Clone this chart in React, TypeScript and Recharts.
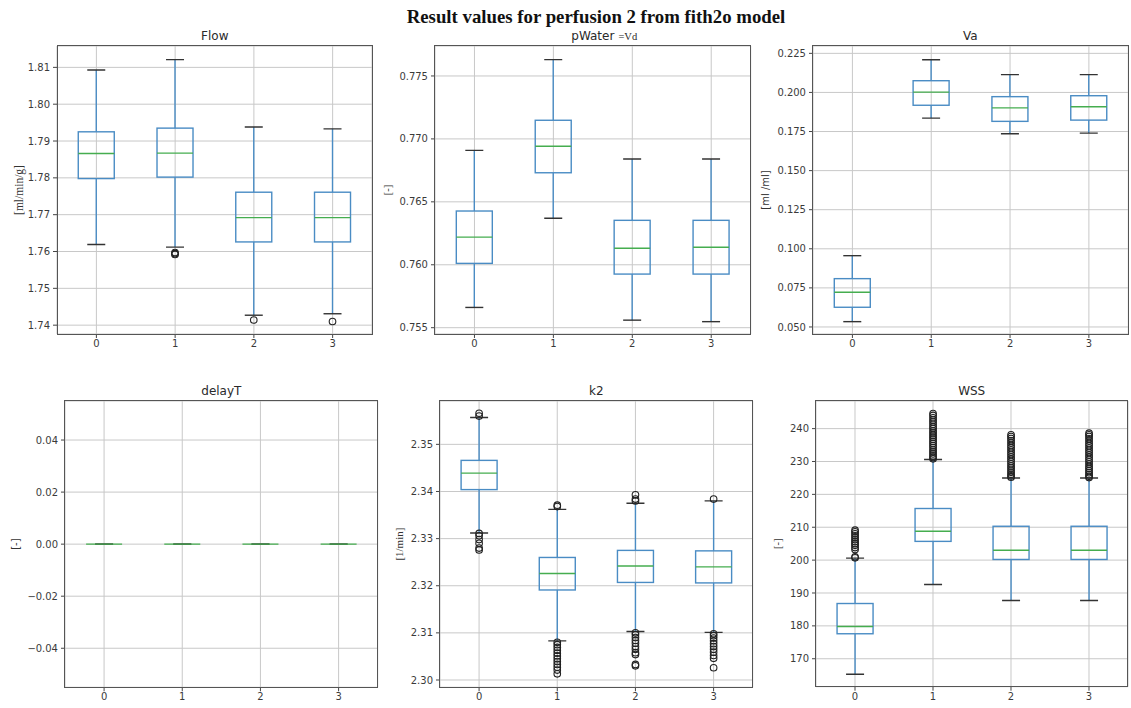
import React from 'react';
import { ComposedChart, Bar, XAxis, YAxis, CartesianGrid } from 'recharts';

const categories = ['0', '1', '2', '3'];

// each row: [lower whisker, Q1, median, Q3, upper whisker]
const flowBoxes = [
  [1.7619, 1.7798, 1.7866, 1.7925, 1.8093],
  [1.7612, 1.7802, 1.7867, 1.7935, 1.8121],
  [1.7427, 1.7626, 1.7692, 1.7761, 1.7938],
  [1.7431, 1.7626, 1.7692, 1.7761, 1.7933],
];
const flowOutliers = [[], [1.7597, 1.7594, 1.7592], [1.7414], [1.741]];
const flowTicks = [1.74, 1.75, 1.76, 1.77, 1.78, 1.79, 1.8, 1.81];

const waterBoxes = [
  [0.75661, 0.76011, 0.7622, 0.76427, 0.76909],
  [0.76369, 0.76731, 0.76941, 0.77148, 0.7763],
  [0.7556, 0.75926, 0.76131, 0.76353, 0.7684],
  [0.75548, 0.75926, 0.76139, 0.76353, 0.7684],
];
const waterOutliers = [[], [], [], []];
const waterTicks = [0.755, 0.76, 0.765, 0.77, 0.775];

const vaBoxes = [
  [0.0534, 0.0626, 0.0722, 0.0809, 0.0956],
  [0.1836, 0.1918, 0.2002, 0.2075, 0.2209],
  [0.1736, 0.1815, 0.1901, 0.1973, 0.2114],
  [0.174, 0.1823, 0.1908, 0.1979, 0.2114],
];
const vaOutliers = [[], [], [], []];
const vaTicks = [0.05, 0.075, 0.1, 0.125, 0.15, 0.175, 0.2, 0.225];

const delayBoxes = [
  [0, 0, 0, 0, 0],
  [0, 0, 0, 0, 0],
  [0, 0, 0, 0, 0],
  [0, 0, 0, 0, 0],
];
const delayOutliers = [[], [], [], []];
const delayTicks = [-0.04, -0.02, 0, 0.02, 0.04];

const k2Boxes = [
  [2.3312, 2.3404, 2.3439, 2.3466, 2.3557],
  [2.3083, 2.3191, 2.3226, 2.326, 2.3362],
  [2.3103, 2.3207, 2.3242, 2.3275, 2.3375],
  [2.3101, 2.3206, 2.324, 2.3274, 2.338],
];
const k2Outliers = [
  [2.3566, 2.356, 2.3311, 2.3306, 2.3298, 2.329, 2.328, 2.3276],
  [2.3371, 2.3368, 2.308, 2.3075, 2.3069, 2.3063, 2.3057, 2.3051, 2.3045, 2.3039, 2.3033, 2.3027, 2.3021, 2.3013],
  [2.3393, 2.3384, 2.338, 2.31, 2.3096, 2.309, 2.3084, 2.3078, 2.3071, 2.3065, 2.3058, 2.3054, 2.3033, 2.303],
  [2.3384, 2.3098, 2.3094, 2.3089, 2.3083, 2.3077, 2.3071, 2.3065, 2.3059, 2.3052, 2.3046, 2.3026],
];
const k2Ticks = [2.3, 2.31, 2.32, 2.33, 2.34, 2.35];

const wssBoxes = [
  [165.3, 177.6, 179.8, 186.8, 200.6],
  [192.6, 205.7, 208.8, 215.7, 230.6],
  [187.7, 200.2, 203.0, 210.3, 225.0],
  [187.7, 200.2, 203.0, 210.3, 225.0],
];
const wssOutliers = [
  [200.7, 201.0, 203.2, 203.8, 204.5, 205.0, 205.6, 206.2, 206.8, 207.4, 208.0, 208.6, 209.1],
  [230.8, 231.2, 231.7, 232.3, 232.9, 233.5, 234.2, 234.8, 235.5, 236.1, 236.8, 237.4, 238.0, 238.7, 239.3, 240.0, 240.6, 241.3, 242.0, 242.6, 243.3, 244.0, 244.6],
  [225.2, 225.6, 226.1, 226.7, 227.3, 228.0, 228.6, 229.3, 230.0, 230.7, 231.4, 232.1, 232.8, 233.5, 234.2, 234.9, 235.6, 236.3, 237.0, 237.6, 238.1],
  [225.1, 225.5, 226.0, 226.6, 227.2, 227.9, 228.5, 229.2, 229.9, 230.6, 231.3, 232.0, 232.7, 233.4, 234.1, 234.8, 235.5, 236.2, 236.9, 237.6, 238.1, 238.6],
];
const wssTicks = [170, 180, 190, 200, 210, 220, 230, 240];

const BLUE = '#4a8cc4';
const GREEN = '#45ad4f';
const SANS = '"DejaVu Sans", sans-serif';
const SERIF = '"Liberation Serif", serif';

const AXIS_W = 55;
const TOP = 22;
const XAXIS_H = 22;
const RIGHT = 4;

// draws one box with whiskers, caps, median and fliers inside the bar's range
const BoxShape = (props: any) => {
  const { x, y, width, height } = props;
  const row = props.payload ?? props;
  const { box, out, lo, hi } = row;
  const toY = (v: number) => (hi === lo ? y : y + ((hi - v) / (hi - lo)) * height);
  const cx = x + width / 2;
  const cap = width / 4;
  const [wl, q1, med, q3, wh] = box.map(toY);
  return (
    <g>
      <line x1={cx} x2={cx} y1={wh} y2={q3} stroke={BLUE} strokeWidth={1.4} />
      <line x1={cx} x2={cx} y1={q1} y2={wl} stroke={BLUE} strokeWidth={1.4} />
      <line x1={cx - cap} x2={cx + cap} y1={wh} y2={wh} stroke="#333" strokeWidth={1.4} />
      <line x1={cx - cap} x2={cx + cap} y1={wl} y2={wl} stroke="#333" strokeWidth={1.4} />
      <rect x={x} y={Math.min(q1, q3)} width={width} height={Math.abs(q1 - q3)} fill="none" stroke={BLUE} strokeWidth={1.4} />
      <line x1={x} x2={x + width} y1={med} y2={med} stroke={GREEN} strokeWidth={1.4} />
      {out.map((v: number, i: number) => (
        <circle key={i} cx={cx} cy={toY(v)} r={3.3} fill="none" stroke="#222" strokeWidth={1.1} />
      ))}
    </g>
  );
};

interface PanelProps {
  title: React.ReactNode;
  unit: string;
  unitFont: string;
  unitSize: number;
  boxes: number[][];
  outliers: number[][];
  ticks: number[];
  domain: [number, number];
  format: (v: number) => string;
  frame: [number, number, number, number];
  labelX: number;
}

const Panel = ({ title, unit, unitFont, unitSize, boxes, outliers, ticks, domain, format, frame, labelX }: PanelProps) => {
  const [x0, y0, x1, y1] = frame;
  const w = x1 - x0;
  const h = y1 - y0;
  const left = x0 - AXIS_W;
  const data = categories.map((name, i) => {
    const all = [boxes[i][0], boxes[i][4], ...outliers[i]];
    return { name, box: boxes[i], out: outliers[i], lo: Math.min(...all), hi: Math.max(...all) };
  });
  const tickStyle = { fontSize: 10, fill: '#3a3a3a', fontFamily: SANS };
  return (
    <>
      <div style={{ position: 'absolute', left, top: y0 - TOP }}>
        <ComposedChart
          width={w + AXIS_W + RIGHT}
          height={h + TOP + XAXIS_H}
          data={data}
          margin={{ top: TOP, right: RIGHT, bottom: 0, left: 0 }}
          barCategoryGap="27%"
        >
          <CartesianGrid stroke="#c8c8c8" strokeWidth={1} />
          <XAxis
            dataKey="name"
            axisLine={false}
            tickLine={{ stroke: '#444' }}
            tickSize={4}
            tickMargin={2}
            tick={tickStyle}
            height={XAXIS_H}
            interval={0}
          />
          <YAxis
            type="number"
            domain={domain}
            ticks={ticks}
            allowDataOverflow
            interval={0}
            width={AXIS_W}
            axisLine={false}
            tickLine={{ stroke: '#444' }}
            tickSize={4}
            tickMargin={3}
            tick={tickStyle}
            tickFormatter={format}
            label={{
              value: unit,
              angle: -90,
              position: 'insideLeft',
              offset: labelX - left,
              style: { textAnchor: 'middle', fontFamily: unitFont, fontSize: unitSize, fill: '#333' },
            }}
          />
          <Bar dataKey={(d: any) => [d.lo, d.hi]} shape={BoxShape} isAnimationActive={false} />
        </ComposedChart>
      </div>
      <div
        style={{
          position: 'absolute',
          left: x0 - 0.7,
          top: y0 - 0.7,
          width: w + 1.4,
          height: h + 1.4,
          border: '1.4px solid #555',
          boxSizing: 'border-box',
          pointerEvents: 'none',
        }}
      />
      <div
        style={{
          position: 'absolute',
          left: (x0 + x1) / 2,
          top: y0 - 15.7,
          transform: 'translateX(-50%)',
          fontFamily: SANS,
          fontSize: 12,
          lineHeight: '12px',
          color: '#2a2a2a',
          whiteSpace: 'nowrap',
        }}
      >
        {title}
      </div>
    </>
  );
};

const fmt = (digits: number) => (v: number) => v.toFixed(digits).replace('-', '\u2212');

export default function App() {
  return (
    <div
      style={{
        position: 'absolute',
        left: 0,
        top: 0,
        width: 1131,
        height: 708,
        background: '#fff',
        overflow: 'hidden',
      }}
    >
      <div
        style={{
          position: 'absolute',
          left: 596,
          top: 8.3,
          transform: 'translateX(-50%)',
          fontFamily: SERIF,
          fontWeight: 'bold',
          fontSize: 18.8,
          lineHeight: '18.8px',
          color: '#111',
          whiteSpace: 'nowrap',
        }}
      >
        Result values for perfusion 2 from fith2o model
      </div>

      <Panel
        title="Flow"
        unit="[ml/min/g]"
        unitFont={SERIF}
        unitSize={11.5}
        boxes={flowBoxes}
        outliers={flowOutliers}
        ticks={flowTicks}
        domain={[1.7376, 1.8158]}
        format={fmt(2)}
        frame={[57.3, 46, 372.3, 334]}
        labelX={19}
      />
      <Panel
        title={
          <span style={{ position: 'relative' }}>
            pWater
            <span style={{ position: 'absolute', left: '100%', bottom: 0, fontFamily: SERIF, fontSize: 10.5, whiteSpace: 'nowrap', paddingLeft: 4 }}>
              =Vd
            </span>
          </span>
        }
        unit="[-]"
        unitFont={SERIF}
        unitSize={10.5}
        boxes={waterBoxes}
        outliers={waterOutliers}
        ticks={waterTicks}
        domain={[0.7545, 0.77738]}
        format={fmt(3)}
        frame={[435, 46, 750.7, 334]}
        labelX={387}
      />
      <Panel
        title="Va"
        unit="[ml /ml]"
        unitFont={SANS}
        unitSize={10}
        boxes={vaBoxes}
        outliers={vaOutliers}
        ticks={vaTicks}
        domain={[0.0455, 0.2297]}
        format={fmt(3)}
        frame={[812.7, 46, 1128, 334]}
        labelX={765}
      />
      <Panel
        title="delayT"
        unit="[-]"
        unitFont={SANS}
        unitSize={10}
        boxes={delayBoxes}
        outliers={delayOutliers}
        ticks={delayTicks}
        domain={[-0.055, 0.055]}
        format={fmt(2)}
        frame={[65, 401, 377.7, 687.3]}
        labelX={15.5}
      />
      <Panel
        title="k2"
        unit="[1/min]"
        unitFont={SERIF}
        unitSize={11}
        boxes={k2Boxes}
        outliers={k2Outliers}
        ticks={k2Ticks}
        domain={[2.29845, 2.3592]}
        format={fmt(2)}
        frame={[440, 401, 752.7, 687.3]}
        labelX={399.5}
      />
      <Panel
        title="WSS"
        unit="[-]"
        unitFont={SERIF}
        unitSize={10.5}
        boxes={wssBoxes}
        outliers={wssOutliers}
        ticks={wssTicks}
        domain={[161.5, 248.4]}
        format={fmt(0)}
        frame={[815.7, 401, 1127.7, 686.7]}
        labelX={777}
      />
    </div>
  );
}
